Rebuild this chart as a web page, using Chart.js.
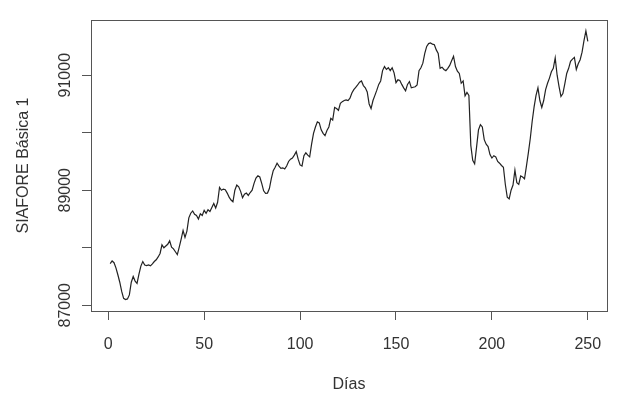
<!DOCTYPE html>
<html>
<head>
<meta charset="utf-8">
<script src="https://cdn.jsdelivr.net/npm/chart.js@4"></script>
<style>
html,body{margin:0;padding:0;background:#fff;}
#wrap{width:621px;height:399px;}
</style>
</head>
<body>
<div id="wrap"><canvas id="c" width="621" height="399"></canvas></div>
<script>
const siafore = [
87725,87770,87740,87650,87530,87400,87240,87120,87100,87110,
87180,87400,87500,87420,87380,87540,87680,87760,87700,87690,
87700,87685,87720,87760,87790,87840,87900,88050,88000,88030,
88060,88120,88010,87980,87930,87880,88010,88150,88300,88180,
88290,88520,88600,88640,88580,88560,88500,88590,88560,88650,
88600,88660,88630,88700,88770,88690,88790,89050,89000,89020,
89010,88950,88880,88830,88800,89000,89090,89060,88980,88870,
88930,88950,88910,88960,89000,89120,89210,89250,89230,89120,
88990,88945,88950,89030,89200,89340,89400,89470,89420,89380,
89390,89370,89420,89500,89540,89560,89610,89670,89540,89440,
89420,89600,89650,89610,89580,89800,89990,90100,90190,90170,
90050,89990,89950,90040,90100,90250,90220,90440,90420,90390,
90510,90540,90560,90570,90560,90600,90690,90750,90790,90830,
90880,90900,90820,90780,90710,90500,90420,90560,90650,90740,
90840,90900,91080,91150,91100,91130,91080,91130,91040,90870,
90920,90910,90840,90780,90730,90840,90890,90780,90790,90800,
90830,91080,91130,91210,91380,91500,91550,91560,91540,91530,
91440,91380,91120,91140,91100,91080,91120,91170,91250,91330,
91150,91070,91030,90860,90900,90640,90700,90650,89780,89520,
89460,89750,90050,90140,90100,89880,89800,89760,89620,89560,
89600,89580,89500,89470,89430,89400,89100,88880,88850,89000,
89090,89350,89130,89100,89250,89230,89200,89420,89650,89900,
90200,90450,90650,90780,90560,90440,90560,90750,90860,90950,
91060,91120,91300,91000,90800,90630,90680,90850,91030,91120,
91240,91280,91310,91100,91200,91270,91400,91600,91770,91590
];
const days = siafore.map((_, i) => i + 1);
const xTicks = [0, 50, 100, 150, 200, 250];
const yTicks = [87000, 88000, 89000, 90000, 91000];
const yLabeled = [87000, 89000, 91000];
const xTitle = 'Días';
const yTitle = 'SIAFORE Básica 1';

const FONT = "'Liberation Sans', Arial, Helvetica, sans-serif";
const TXT = '#333';
const AX = '#555';

const boxPlugin = {
  id: 'rbox',
  afterDraw(chart) {
    const {ctx, chartArea: a} = chart;
    ctx.save();
    ctx.strokeStyle = AX;
    ctx.lineWidth = 1;
    ctx.strokeRect(Math.round(a.left) + 0.5, Math.round(a.top) + 0.5,
                   Math.round(a.right - a.left), Math.round(a.bottom - a.top));
    ctx.restore();
  }
};

new Chart(document.getElementById('c'), {
  type: 'line',
  data: {
    datasets: [{
      data: days.map((d, i) => ({x: d, y: siafore[i]})),
      borderColor: '#222',
      borderWidth: 1.2,
      pointRadius: 0,
      tension: 0,
      fill: false
    }]
  },
  options: {
    responsive: false,
    animation: false,
    devicePixelRatio: 1,
    layout: {padding: {left: 0, right: 14, top: 20, bottom: 0}},
    plugins: {legend: {display: false}, tooltip: {enabled: false}},
    scales: {
      x: {
        type: 'linear',
        min: -9,
        max: 260,
        afterBuildTicks(s) { s.ticks = xTicks.map(v => ({value: v})); },
        afterFit(s) { s.height = 88; },
        border: {display: false},
        grid: {drawOnChartArea: false, drawTicks: true, tickLength: 9, color: AX, lineWidth: 1},
        ticks: {
          autoSkip: false, maxRotation: 0, minRotation: 0, padding: 15,
          color: TXT, font: {family: FONT, size: 16},
          callback: v => String(v)
        },
        title: {display: true, text: xTitle, color: TXT, font: {family: FONT, size: 16},
                padding: {top: 0, bottom: 5}}
      },
      y: {
        type: 'linear',
        min: 86900,
        max: 91960,
        afterBuildTicks(s) { s.ticks = yTicks.map(v => ({value: v})); },
        afterFit(s) { s.width = 91; },
        border: {display: false},
        grid: {drawOnChartArea: false, drawTicks: true, tickLength: 9, color: AX, lineWidth: 1},
        ticks: {
          autoSkip: false, minRotation: 90, maxRotation: 90, crossAlign: 'center', padding: -6,
          color: TXT, font: {family: FONT, size: 16},
          callback: v => yLabeled.includes(v) ? String(v) : ''
        },
        title: {display: true, text: yTitle, color: TXT, font: {family: FONT, size: 16},
                padding: {top: 14, bottom: 0}}
      }
    }
  },
  plugins: [boxPlugin]
});
</script>
</body>
</html>
